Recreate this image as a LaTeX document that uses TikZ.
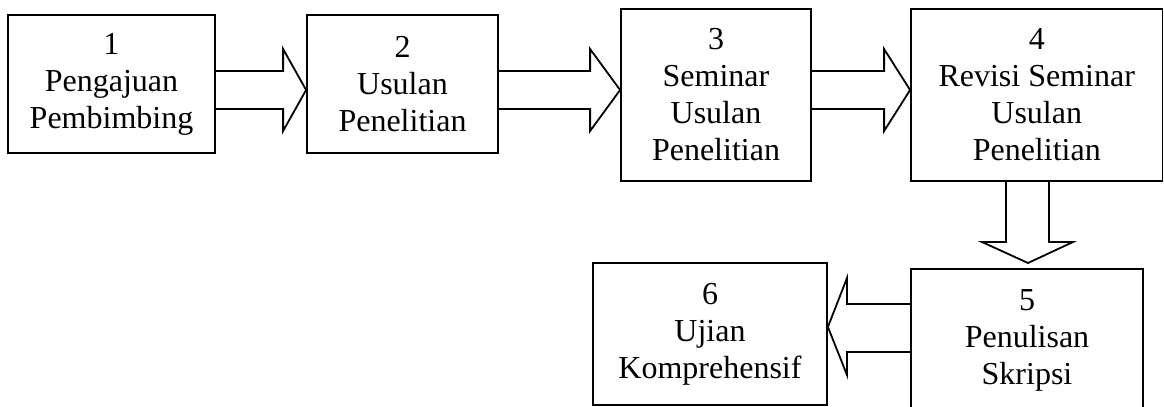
\documentclass[tikz,border=0pt]{standalone}
\usepackage{fontspec}
\setmainfont{Liberation Serif}
\usetikzlibrary{calc}
\tikzset{
    stage/.style={draw, line width=0.9pt, align=center, inner sep=0pt,
                  font=\fontsize{16}{18.5}\selectfont},
    blockarrow/.style={draw, line width=0.9pt, line join=miter},
}

\begin{document}
\begin{tikzpicture}[x=0.5pt, y=-0.5pt]

    \useasboundingbox (0,0) rectangle (1164,407);
    \clip (0,0) rectangle (1164,407);

    % top row
    \node[stage, minimum width=103.5pt, minimum height=69pt] (b1) at (111.5,84)
        {1\\Pengajuan\\Pembimbing};
    \node[stage, minimum width=95.5pt, minimum height=69pt] (b2) at (402.5,84)
        {2\\Usulan\\Penelitian};
    \node[stage, minimum width=95pt, minimum height=86pt] (b3) at (716,95)
        {3\\Seminar\\Usulan\\Penelitian};
    \node[stage, minimum width=125.75pt, minimum height=86pt] (b4) at (1036.75,95)
        {4\\Revisi Seminar\\Usulan\\Penelitian};

    % bottom row
    \node[stage, minimum width=116pt, minimum height=71pt] (b5) at (1027,340)
        {5\\Penulisan\\Skripsi};
    \node[stage, minimum width=117pt, minimum height=71pt] (b6) at (710,334)
        {6\\Ujian\\Komprehensif};

    % block arrows along the top row
    \foreach \src/\dst/\len in {b1/b2/23, b2/b3/30, b3/b4/26}
        \draw[blockarrow] (\src.east |- 0,71) -- ($(\dst.west |- 0,71)-(\len,0)$)
            -- ++(0,-22) -- (\dst.west |- 0,90) -- ($(\dst.west |- 0,131)-(\len,0)$)
            -- ++(0,-22) -- (\src.east |- 0,109);

    % down to 5
    \coordinate (tip5) at (1028,263);
    \draw[blockarrow] (b4.south -| 1006,0) -- (1006,242) -- (982,242) -- (tip5)
        -- (1073,242) -- (1049,242) -- (b4.south -| 1049,0);

    % back to 6
    \draw[blockarrow] (b5.west |- 0,304) -- (847,304) -- (847,278) -- (b6.east |- 0,327)
        -- (847,375) -- (847,352) -- (b5.west |- 0,352);

\end{tikzpicture}
\end{document}
